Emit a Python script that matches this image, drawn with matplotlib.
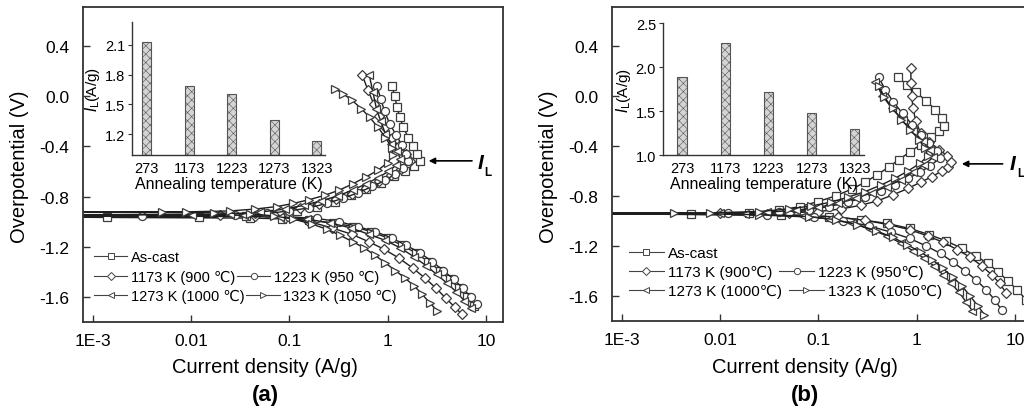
import matplotlib
matplotlib.use('Agg')
import matplotlib.pyplot as plt
from matplotlib.lines import Line2D
from matplotlib.legend import Legend

plt.rcParams['font.family'] = ['Liberation Sans', 'DejaVu Sans']
plt.rcParams['axes.unicode_minus'] = False
plt.rcParams['hatch.linewidth'] = 0.4

# ---------------- panel (a) : polarization curves ----------------
# current density (A/g), overpotential (V); cathodic end -> E_corr -> anodic tip
cur_a_ascast = [7.6, 6.4, 5.3, 4.3, 3.4, 2.6, 1.95, 1.4, 1.0, 0.68, 0.45, 0.28, 0.16, 0.085, 0.04, 0.0014, 0.0006,
                0.012, 0.036, 0.07, 0.12, 0.19, 0.29, 0.42, 0.6, 0.85, 1.15, 1.5, 1.85, 2.13,
                2.0, 1.8, 1.62, 1.45, 1.33, 1.25, 1.18, 1.11]
pot_a_ascast = [-1.67, -1.60, -1.53, -1.46, -1.39, -1.32, -1.25, -1.19, -1.13, -1.08, -1.04, -1.01, -0.99, -0.978, -0.972, -0.967, -0.965,
                -0.963, -0.955, -0.94, -0.915, -0.88, -0.84, -0.79, -0.74, -0.69, -0.64, -0.60, -0.56, -0.52,
                -0.46, -0.40, -0.33, -0.25, -0.17, -0.09, 0.0, 0.08]

cur_a_1173 = [5.7, 4.8, 3.9, 3.1, 2.4, 1.8, 1.3, 0.92, 0.64, 0.43, 0.27, 0.16, 0.09, 0.045, 0.0006,
              0.02, 0.045, 0.08, 0.13, 0.2, 0.3, 0.43, 0.6, 0.82, 1.08, 1.38, 1.69,
              1.55, 1.3, 1.1, 0.95, 0.82, 0.72, 0.63, 0.55]
pot_a_1173 = [-1.74, -1.68, -1.61, -1.53, -1.45, -1.37, -1.29, -1.22, -1.16, -1.10, -1.05, -1.00, -0.97, -0.955, -0.95,
              -0.947, -0.935, -0.915, -0.89, -0.86, -0.82, -0.78, -0.73, -0.68, -0.63, -0.58, -0.52,
              -0.46, -0.40, -0.33, -0.25, -0.16, -0.06, 0.05, 0.17]

cur_a_1223 = [8.1, 7.0, 5.8, 4.7, 3.7, 2.85, 2.15, 1.55, 1.1, 0.75, 0.5, 0.32, 0.19, 0.1, 0.0032, 0.0006,
              0.028, 0.06, 0.1, 0.16, 0.24, 0.35, 0.5, 0.7, 0.95, 1.2, 1.45, 1.62,
              1.55, 1.4, 1.22, 1.05, 0.93, 0.85, 0.78]
pot_a_1223 = [-1.66, -1.60, -1.53, -1.46, -1.39, -1.32, -1.25, -1.19, -1.13, -1.08, -1.04, -1.00, -0.975, -0.962, -0.956, -0.955,
              -0.95, -0.935, -0.915, -0.89, -0.855, -0.815, -0.77, -0.72, -0.67, -0.62, -0.57, -0.52,
              -0.46, -0.39, -0.31, -0.22, -0.12, -0.02, 0.08]

cur_a_1273 = [7.0, 6.0, 5.0, 4.0, 3.15, 2.45, 1.85, 1.35, 0.95, 0.64, 0.42, 0.26, 0.15, 0.08, 0.035, 0.0103, 0.0006,
              0.025, 0.05, 0.09, 0.14, 0.21, 0.31, 0.44, 0.6, 0.8, 1.02, 1.22, 1.35,
              1.25, 1.08, 0.95, 0.85, 0.77, 0.71, 0.65]
pot_a_1273 = [-1.69, -1.63, -1.56, -1.49, -1.42, -1.35, -1.28, -1.21, -1.15, -1.10, -1.05, -1.01, -0.98, -0.96, -0.95, -0.946, -0.945,
              -0.94, -0.925, -0.90, -0.87, -0.835, -0.795, -0.75, -0.70, -0.65, -0.60, -0.55, -0.50,
              -0.44, -0.38, -0.30, -0.20, -0.10, 0.03, 0.17]

cur_a_1323 = [3.2, 2.7, 2.25, 1.85, 1.5, 1.2, 0.95, 0.75, 0.58, 0.44, 0.33, 0.24, 0.17, 0.11, 0.07, 0.04, 0.017, 0.0051, 0.0006,
              0.009, 0.025, 0.045, 0.075, 0.11, 0.16, 0.23, 0.32, 0.44, 0.6, 0.8, 1.0, 1.14,
              1.1, 0.95, 0.8, 0.66, 0.54, 0.43, 0.35, 0.29]
pot_a_1323 = [-1.71, -1.65, -1.58, -1.51, -1.45, -1.39, -1.33, -1.27, -1.21, -1.16, -1.11, -1.06, -1.02, -0.98, -0.955, -0.937, -0.93, -0.927, -0.925,
              -0.922, -0.915, -0.90, -0.88, -0.855, -0.825, -0.79, -0.75, -0.70, -0.645, -0.59, -0.53, -0.47,
              -0.41, -0.33, -0.25, -0.17, -0.10, -0.03, 0.02, 0.06]

# ---------------- panel (b) : polarization curves ----------------
cur_b_ascast = [16, 13, 10.5, 8.5, 6.8, 5.3, 4.0, 2.9, 2.0, 1.35, 0.85, 0.5, 0.27, 0.13, 0.042, 0.0051, 0.0006,
                0.02, 0.04, 0.065, 0.1, 0.15, 0.22, 0.3, 0.4, 0.52, 0.66, 0.85, 1.1, 1.4, 1.7, 1.88,
                1.8, 1.55, 1.25, 0.98, 0.8, 0.64]
pot_b_ascast = [-1.72, -1.63, -1.55, -1.48, -1.41, -1.34, -1.28, -1.22, -1.16, -1.11, -1.06, -1.02, -0.99, -0.965, -0.955, -0.947, -0.945,
                -0.935, -0.915, -0.885, -0.845, -0.80, -0.745, -0.69, -0.63, -0.57, -0.51, -0.45, -0.39, -0.33, -0.28, -0.24,
                -0.18, -0.11, -0.04, 0.03, 0.09, 0.15]

cur_b_1173 = [8.2, 7.0, 5.8, 4.6, 3.5, 2.6, 1.85, 1.3, 0.85, 0.52, 0.3, 0.16, 0.08, 0.03, 0.0006,
              0.01, 0.05, 0.1, 0.17, 0.27, 0.4, 0.58, 0.82, 1.1, 1.45, 1.8, 2.1, 2.25,
              2.05, 1.7, 1.35, 1.1, 0.98, 0.92, 0.89, 0.88, 0.87]
pot_b_1173 = [-1.58, -1.50, -1.43, -1.36, -1.29, -1.23, -1.17, -1.12, -1.07, -1.03, -0.995, -0.97, -0.955, -0.947, -0.94,
              -0.94, -0.935, -0.925, -0.905, -0.875, -0.84, -0.79, -0.74, -0.69, -0.645, -0.60, -0.57, -0.53,
              -0.48, -0.43, -0.37, -0.30, -0.20, -0.10, 0.0, 0.10, 0.22]

cur_b_1223 = [7.3, 6.2, 5.1, 4.0, 3.1, 2.35, 1.75, 1.25, 0.85, 0.55, 0.33, 0.18, 0.09, 0.03, 0.0006,
              0.012, 0.04, 0.08, 0.13, 0.2, 0.3, 0.43, 0.6, 0.82, 1.08, 1.38, 1.71,
              1.6, 1.35, 1.1, 0.9, 0.72, 0.58, 0.48, 0.41]
pot_b_1223 = [-1.71, -1.63, -1.55, -1.47, -1.40, -1.33, -1.26, -1.20, -1.14, -1.09, -1.04, -1.00, -0.97, -0.955, -0.942,
              -0.94, -0.93, -0.91, -0.885, -0.85, -0.81, -0.76, -0.71, -0.66, -0.61, -0.56, -0.50,
              -0.44, -0.38, -0.31, -0.23, -0.14, -0.05, 0.05, 0.15]

cur_b_1273 = [3.7, 3.2, 2.7, 2.25, 1.85, 1.5, 1.2, 0.92, 0.7, 0.5, 0.35, 0.22, 0.13, 0.07, 0.018, 0.0006,
              0.01, 0.03, 0.06, 0.1, 0.16, 0.24, 0.35, 0.5, 0.7, 0.92, 1.2, 1.48,
              1.38, 1.15, 0.92, 0.72, 0.56, 0.45, 0.38]
pot_b_1273 = [-1.72, -1.65, -1.57, -1.50, -1.43, -1.36, -1.30, -1.24, -1.18, -1.12, -1.07, -1.02, -0.985, -0.96, -0.948, -0.94,
              -0.938, -0.93, -0.915, -0.89, -0.86, -0.82, -0.775, -0.725, -0.67, -0.61, -0.55, -0.49,
              -0.43, -0.36, -0.28, -0.19, -0.10, 0.0, 0.11]

cur_b_1323 = [4.9, 4.2, 3.5, 2.9, 2.35, 1.85, 1.45, 1.1, 0.8, 0.57, 0.39, 0.25, 0.15, 0.08, 0.025, 0.0034, 0.0006,
              0.008, 0.025, 0.05, 0.085, 0.135, 0.2, 0.3, 0.43, 0.6, 0.82, 1.08, 1.3,
              1.22, 1.05, 0.86, 0.7, 0.57, 0.47, 0.41]
pot_b_1323 = [-1.75, -1.68, -1.60, -1.52, -1.45, -1.38, -1.31, -1.25, -1.19, -1.13, -1.08, -1.03, -0.99, -0.965, -0.95, -0.94, -0.938,
              -0.935, -0.925, -0.905, -0.88, -0.85, -0.81, -0.765, -0.715, -0.66, -0.60, -0.54, -0.48,
              -0.42, -0.35, -0.27, -0.19, -0.10, -0.01, 0.08]

# ---------------- insets : limiting current I_L ----------------
anneal_temps = ['273', '1173', '1223', '1273', '1323']
il_a = [2.13, 1.69, 1.60, 1.345, 1.13]
il_b = [1.89, 2.27, 1.72, 1.48, 1.30]

labels_a = ['As-cast', '1173 K (900 \u2103)', '1223 K (950 \u2103)', '1273 K (1000 \u2103)', '1323 K (1050 \u2103)']
labels_b = ['As-cast', '1173 K (900\u2103)', '1223 K (950\u2103)', '1273 K (1000\u2103)', '1323 K (1050\u2103)']
markers = ['s', 'D', 'o', '<', '>']

curves_a = [(cur_a_ascast, pot_a_ascast), (cur_a_1173, pot_a_1173), (cur_a_1223, pot_a_1223),
            (cur_a_1273, pot_a_1273), (cur_a_1323, pot_a_1323)]
curves_b = [(cur_b_ascast, pot_b_ascast), (cur_b_1173, pot_b_1173), (cur_b_1223, pot_b_1223),
            (cur_b_1273, pot_b_1273), (cur_b_1323, pot_b_1323)]

W, H = 1024, 414
fig = plt.figure(figsize=(W / 100, H / 100), dpi=100)


def px(x0, y0, x1, y1):
    # pixel box -> figure rect
    return [x0 / W, 1 - y1 / H, (x1 - x0) / W, (y1 - y0) / H]


def main_panel(rect, curves, labels, leg_x, leg_y, leg_fs, colsp):
    ax = fig.add_axes(rect)
    for (c, p), m in zip(curves, markers):
        ax.plot(c, p, color='#1e1e1e', lw=1.0, marker=m, ms=5.8 if m != 'D' else 5.3,
                mfc='white', mec='#3c3c3c', mew=0.9)
    ax.set_xscale('log')
    ax.set_xlim(8e-4, 14.9)
    ax.set_ylim(-1.8, 0.71)
    ax.set_xticks([1e-3, 1e-2, 1e-1, 1, 10])
    ax.set_xticklabels(['1E-3', '0.01', '0.1', '1', '10'])
    ax.xaxis.set_minor_locator(matplotlib.ticker.NullLocator())
    ax.set_yticks([-1.6, -1.2, -0.8, -0.4, 0.0, 0.4])
    ax.set_yticklabels(['-1.6', '-1.2', '-0.8', '-0.4', '0.0', '0.4'])
    ax.tick_params(direction='in', length=5, width=1, labelsize=12.5, color='#333333')
    ax.tick_params(axis='y', pad=10)
    ax.tick_params(axis='x', pad=8)
    for s in ax.spines.values():
        s.set_linewidth(1.3)
        s.set_color('#333333')

    handles = [Line2D([], [], color='#444444', lw=0.8, marker=m, ms=4.5, mfc='white',
                      mec='#444444', mew=0.7) for m in markers]
    rows = [[0], [1, 2], [3, 4]]
    for r, yy in zip(rows, leg_y):
        leg = Legend(ax, [handles[i] for i in r], [labels[i] for i in r], ncol=len(r),
                     loc='center left', bbox_to_anchor=(leg_x, yy), frameon=False,
                     borderaxespad=0, borderpad=0, handlelength=2.3, handletextpad=0.25,
                     columnspacing=colsp, fontsize=leg_fs)
        ax.add_artist(leg)
    return ax


def inset(rect, vals, ylim, yticks, yfmt):
    ax = fig.add_axes(rect)
    ax.bar(range(len(vals)), [v - ylim[0] for v in vals], bottom=ylim[0], width=0.21,
           color='#d4d4d4', edgecolor='#555555', hatch='xxxx', lw=0.8)
    ax.set_ylim(*ylim)
    ax.set_yticks(yticks)
    ax.set_yticklabels([yfmt % t for t in yticks])
    ax.set_xticks(range(len(vals)))
    ax.set_xticklabels(anneal_temps)
    ax.spines['top'].set_visible(False)
    ax.spines['right'].set_visible(False)
    for s in ['left', 'bottom']:
        ax.spines[s].set_linewidth(1.0)
        ax.spines[s].set_color('#333333')
    ax.tick_params(labelsize=10.5, length=3, pad=2, color='#333333')
    ax.tick_params(axis='x', length=0, pad=4)
    ax.set_xlabel('Annealing temperature (K)', fontsize=11.5, labelpad=1)
    return ax


# panel (a)
ax_a = main_panel(px(83, 8, 503, 323), curves_a, labels_a, 0.026, [0.206, 0.143, 0.083], 10.5, 0.1)
in_a = inset(px(132, 23, 325, 156), il_a, (0.99, 2.33), [1.2, 1.5, 1.8, 2.1], '%.1f')
in_a.set_xlim(-0.35, 4.19)
in_a.set_ylabel(r'$I_{\rm L}$(A/g)', fontsize=11, labelpad=2)

# panel (b)
ax_b = main_panel(px(612, 8, 1032, 322), curves_b, labels_b, 0.040, [0.217, 0.156, 0.096], 11, 0.45)
in_b = inset(px(663, 24, 864, 156), il_b, (1.0, 2.5), [1.0, 1.5, 2.0, 2.5], '%.1f')
in_b.set_xlim(-0.44, 4.21)
in_b.set_ylabel(r'$I_{\rm L}$(A/g)', fontsize=11, labelpad=2)

# I_L arrows
ax_a.annotate('', xy=(2.45, -0.516), xytext=(7.7, -0.516),
              arrowprops=dict(arrowstyle='-|>', color='black', lw=1.2, mutation_scale=9))
ax_b.annotate('', xy=(2.7, -0.544), xytext=(8.0, -0.544),
              arrowprops=dict(arrowstyle='-|>', color='black', lw=1.2, mutation_scale=9))
for xi, yi in [(480, 164), (1013, 165)]:
    fig.text(xi / W, 1 - yi / H, 'I', fontsize=15, fontweight='bold', fontstyle='italic',
             ha='center', va='center')
    fig.text((xi + 8) / W, 1 - (yi + 9) / H, 'L', fontsize=8.5, fontweight='bold',
             ha='center', va='center')

# axis labels and panel tags
for xc, tag in [(265, '(a)'), (805, '(b)')]:
    fig.text(xc / W, 1 - 368 / H, 'Current density (A/g)', fontsize=14.5, ha='center', va='center')
    fig.text(xc / W, 1 - 396 / H, tag, fontsize=16, fontweight='bold', ha='center', va='center')
fig.text(20 / W, 1 - 167 / H, 'Overpotential (V)', fontsize=14.5, rotation=90, ha='center', va='center')
fig.text(548 / W, 1 - 167 / H, 'Overpotential (V)', fontsize=14.5, rotation=90, ha='center', va='center')

fig.savefig('out.png', dpi=100)
